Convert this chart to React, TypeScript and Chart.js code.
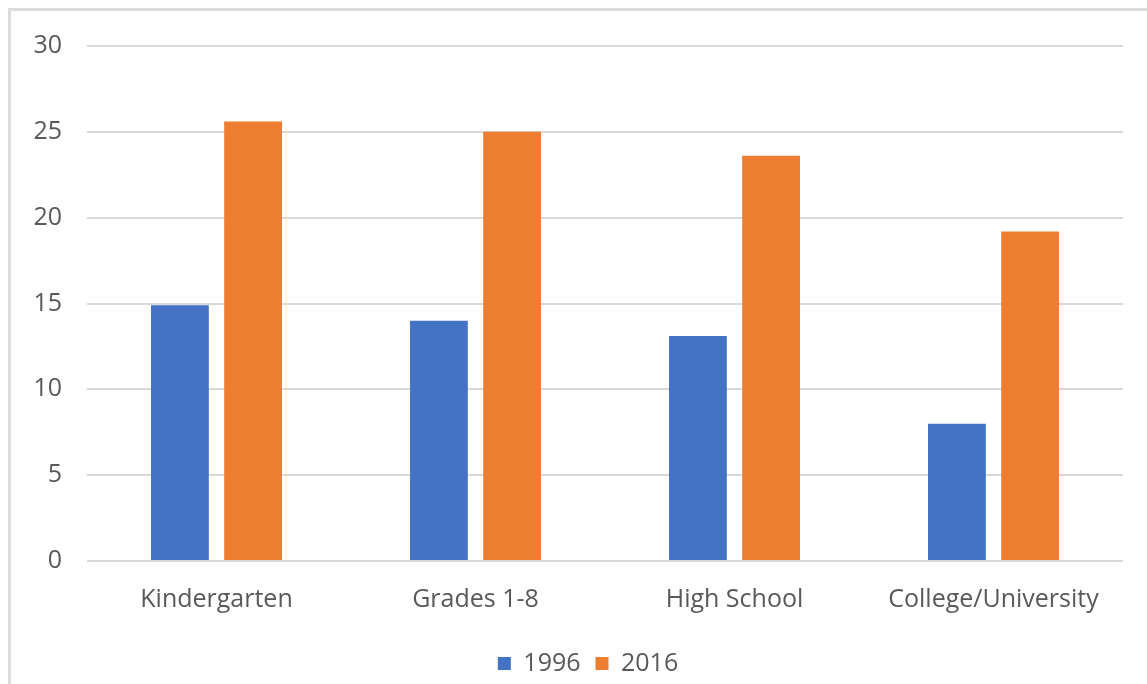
import React, { useEffect, useRef } from "react";
import { Chart, registerables } from "chart.js";

Chart.register(...registerables);

const categories = ["Kindergarten", "Grades 1-8", "High School", "College/University"];
const seriesNames = ["1996", "2016"];
const values1996 = [14.9, 14.0, 13.1, 8.0];
const values2016 = [25.6, 25.0, 23.6, 19.2];
const yMin = 0;
const yMax = 30;
const yStep = 5;

const FONT = "'Open Sans', 'Liberation Sans', sans-serif";
const TEXT = "#595959";
const GRID = "#d9d9d9";

const legendShift = {
  id: "legendShift",
  afterLayout(chart: any) {
    const lg = chart.legend;
    if (lg) {
      lg.left += 29;
      lg.right += 29;
      lg.top += 2;
      lg.bottom += 2;
    }
  },
};

export default function App() {
  const ref = useRef<HTMLCanvasElement | null>(null);

  useEffect(() => {
    if (!ref.current) return;
    const chart = new Chart(ref.current, {
      type: "bar",
      data: {
        labels: categories,
        datasets: [
          {
            label: seriesNames[0],
            data: values1996,
            backgroundColor: "#4472C4",
            categoryPercentage: 0.565,
            barPercentage: 0.79,
          },
          {
            label: seriesNames[1],
            data: values2016,
            backgroundColor: "#ED7D31",
            categoryPercentage: 0.565,
            barPercentage: 0.79,
          },
        ],
      },
      plugins: [legendShift],
      options: {
        animation: false,
        responsive: false,
        maintainAspectRatio: false,
        layout: { padding: { top: 46, left: 8, right: 24, bottom: 0 } },
        plugins: {
          tooltip: { enabled: false },
          legend: {
            position: "bottom",
            labels: {
              boxWidth: 13,
              boxHeight: 13,
              padding: 2,
              color: TEXT,
              font: { family: FONT, size: 25 },
              generateLabels: (c: any) =>
                Chart.defaults.plugins.legend.labels.generateLabels(c).map((l: any) => ({
                  ...l,
                  text: l.text + "  ",
                })),
            },
          },
        },
        scales: {
          x: {
            grid: { display: false, drawTicks: false },
            border: { display: false },
            ticks: { color: TEXT, font: { family: FONT, size: 25 }, padding: 24 },
            afterFit: (s: any) => {
              s.height = 86;
            },
          },
          y: {
            min: yMin,
            max: yMax,
            ticks: { stepSize: yStep, color: TEXT, font: { family: FONT, size: 25 }, padding: 25 },
            grid: { color: GRID, lineWidth: 2, drawTicks: false },
            border: { display: false },
            afterFit: (s: any) => {
              s.width = 79;
            },
          },
        },
      },
    });
    return () => chart.destroy();
  }, []);

  return (
    <div style={{ position: "fixed", left: 0, top: 0, width: 1147, height: 684, overflow: "hidden", background: "#fff" }}>
      <div
        style={{
          position: "absolute",
          left: 8,
          top: 8,
          width: 1200,
          height: 800,
          border: "3px solid #dcdcdc",
          boxSizing: "border-box",
        }}
      />
      <canvas ref={ref} width={1147} height={684} style={{ position: "absolute", left: 0, top: 0 }} />
    </div>
  );
}
